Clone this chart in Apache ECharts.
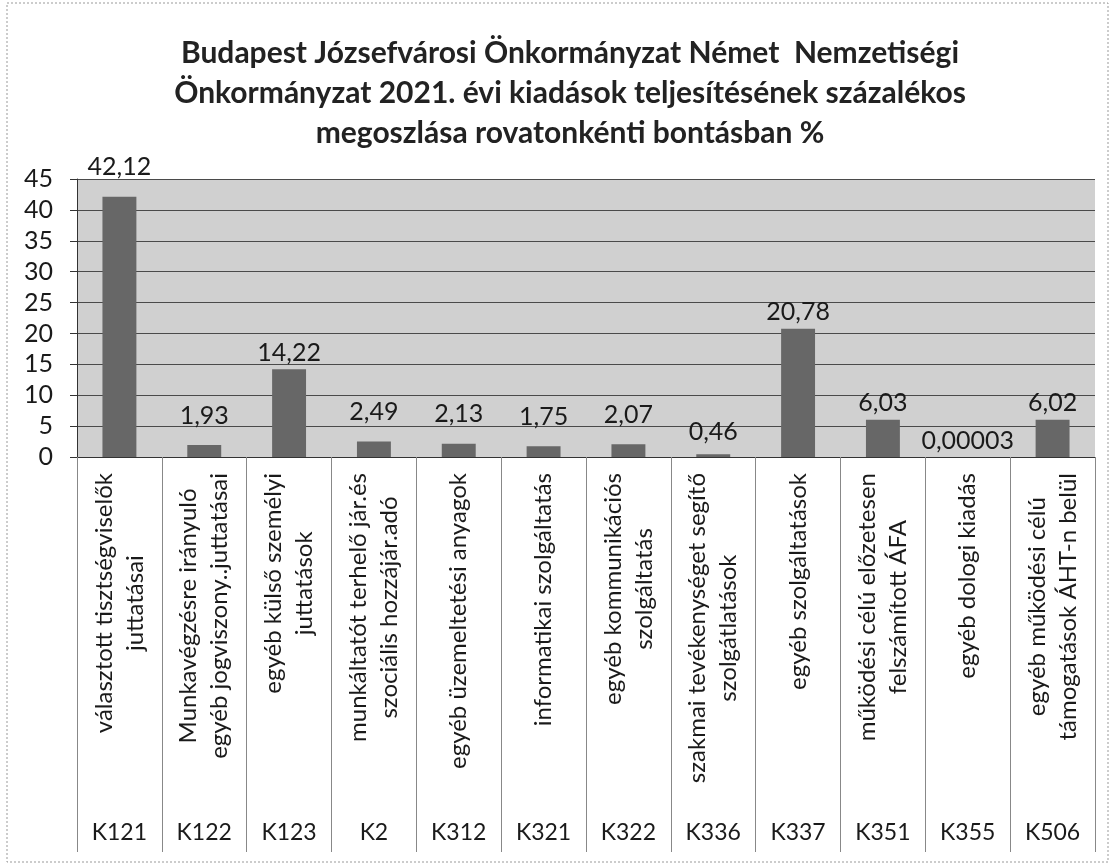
<!DOCTYPE html>
<html>
<head>
<meta charset="utf-8">
<script src="https://cdn.jsdelivr.net/npm/echarts@6/dist/echarts.min.js"></script>
<style>
  html, body { margin: 0; padding: 0; background: #fff; }
  #main { width: 1112px; height: 865px; }
</style>
</head>
<body>
<div id="main"></div>
<script>
// rovat megnevezések (két soros feliratok) és kódok
var categoryNames = [
  'választott tisztségviselők\njuttatásai',
  'Munkavégzésre irányuló\negyéb jogviszony..juttatásai',
  'egyéb külső személyi\njuttatások',
  'munkáltatót terhelő jár.és\nszociális hozzájár.adó',
  'egyéb üzemeltetési anyagok',
  'informatikai szolgáltatás',
  'egyéb kommunikációs\nszolgáltatás',
  'szakmai tevékenységet segítő\nszolgátlatások',
  'egyéb szolgáltatások',
  'működési célú előzetesen\nfelszámított ÁFA',
  'egyéb dologi kiadás',
  'egyéb működési célú\ntámogatások ÁHT-n belül'
];
var categoryCodes = ['K121', 'K122', 'K123', 'K2', 'K312', 'K321', 'K322', 'K336', 'K337', 'K351', 'K355', 'K506'];
var percentValues = [42.12, 1.93, 14.22, 2.49, 2.13, 1.75, 2.07, 0.46, 20.78, 6.03, 0.00003, 6.02];

var chartTitle = 'Budapest Józsefvárosi Önkormányzat Német  Nemzetiségi\n' +
  'Önkormányzat 2021. évi kiadások teljesítésének százalékos\n' +
  'megoszlása rovatonkénti bontásban %';

var FONT = 'Lato';
var chart = echarts.init(document.getElementById('main'));

// néhány felirat az eredetin magasabban áll az oszlop fölött
var barData = percentValues.map(function (v) {
  var item = { value: v };
  if ((v > 1 && v < 3) || v > 40) {
    item.label = { distance: 17 };
  } else if (v > 0.1 && v < 1) {
    item.label = { distance: 10 };
  }
  return item;
});

var option = {
  animation: false,
  backgroundColor: '#fff',
  textStyle: { fontFamily: FONT, color: '#1a1a1a' },
  title: {
    text: chartTitle,
    left: 565,
    top: 28,
    textAlign: 'center',
    textStyle: {
      fontFamily: FONT,
      fontSize: 30,
      fontWeight: 'bold',
      lineHeight: 40,
      color: '#222'
    }
  },
  graphic: [{
    type: 'rect',
    shape: { x: 7, y: 3, width: 1101, height: 859 },
    style: { fill: 'none', stroke: '#999', lineWidth: 1, lineDash: [2, 2] },
    silent: true
  }],
  grid: {
    left: 77,
    right: 17,
    top: 179,
    bottom: 408,
    show: true,
    backgroundColor: '#d0d0d0',
    borderWidth: 0
  },
  xAxis: [
    {
      type: 'category',
      position: 'bottom',
      data: categoryNames,
      axisLine: { show: true, lineStyle: { color: '#333', width: 1 } },
      axisTick: {
        show: true,
        inside: false,
        length: 395,
        lineStyle: { color: '#888', width: 1 }
      },
      axisLabel: {
        interval: 0,
        rotate: 90,
        margin: 16,
        fontFamily: FONT,
        fontSize: 24,
        lineHeight: 31,
        color: '#1a1a1a',
        formatter: function (val) {
          return val.split('\n').map(function (s) { return '{c|' + s + '}'; }).join('\n');
        },
        rich: {
          c: { align: 'center', fontFamily: FONT, fontSize: 24, lineHeight: 31, color: '#1a1a1a' }
        }
      }
    },
    {
      type: 'category',
      position: 'bottom',
      data: categoryCodes,
      axisLine: { show: false },
      axisTick: { show: false },
      axisLabel: {
        interval: 0,
        margin: 364,
        fontFamily: FONT,
        fontSize: 23,
        color: '#1a1a1a'
      }
    }
  ],
  yAxis: {
    type: 'value',
    min: 0,
    max: 45,
    interval: 5,
    axisLine: { show: true, lineStyle: { color: '#333', width: 1 } },
    axisTick: { show: true, length: 7, lineStyle: { color: '#333' } },
    axisLabel: {
      margin: 24,
      fontFamily: FONT,
      fontSize: 25,
      color: '#1a1a1a'
    },
    splitLine: { show: true, lineStyle: { color: '#4a4a4a', width: 1 } }
  },
  series: [
    {
      name: 'százalék',
      type: 'bar',
      xAxisIndex: 0,
      barWidth: '40%',
      data: barData,
      itemStyle: { color: '#676767' },
      label: {
        show: true,
        position: 'top',
        distance: 4,
        fontFamily: FONT,
        fontSize: 25,
        color: '#1a1a1a',
        formatter: function (p) {
          return String(p.value).replace('.', ',');
        }
      }
    }
  ]
};

chart.setOption(option);
</script>
</body>
</html>
